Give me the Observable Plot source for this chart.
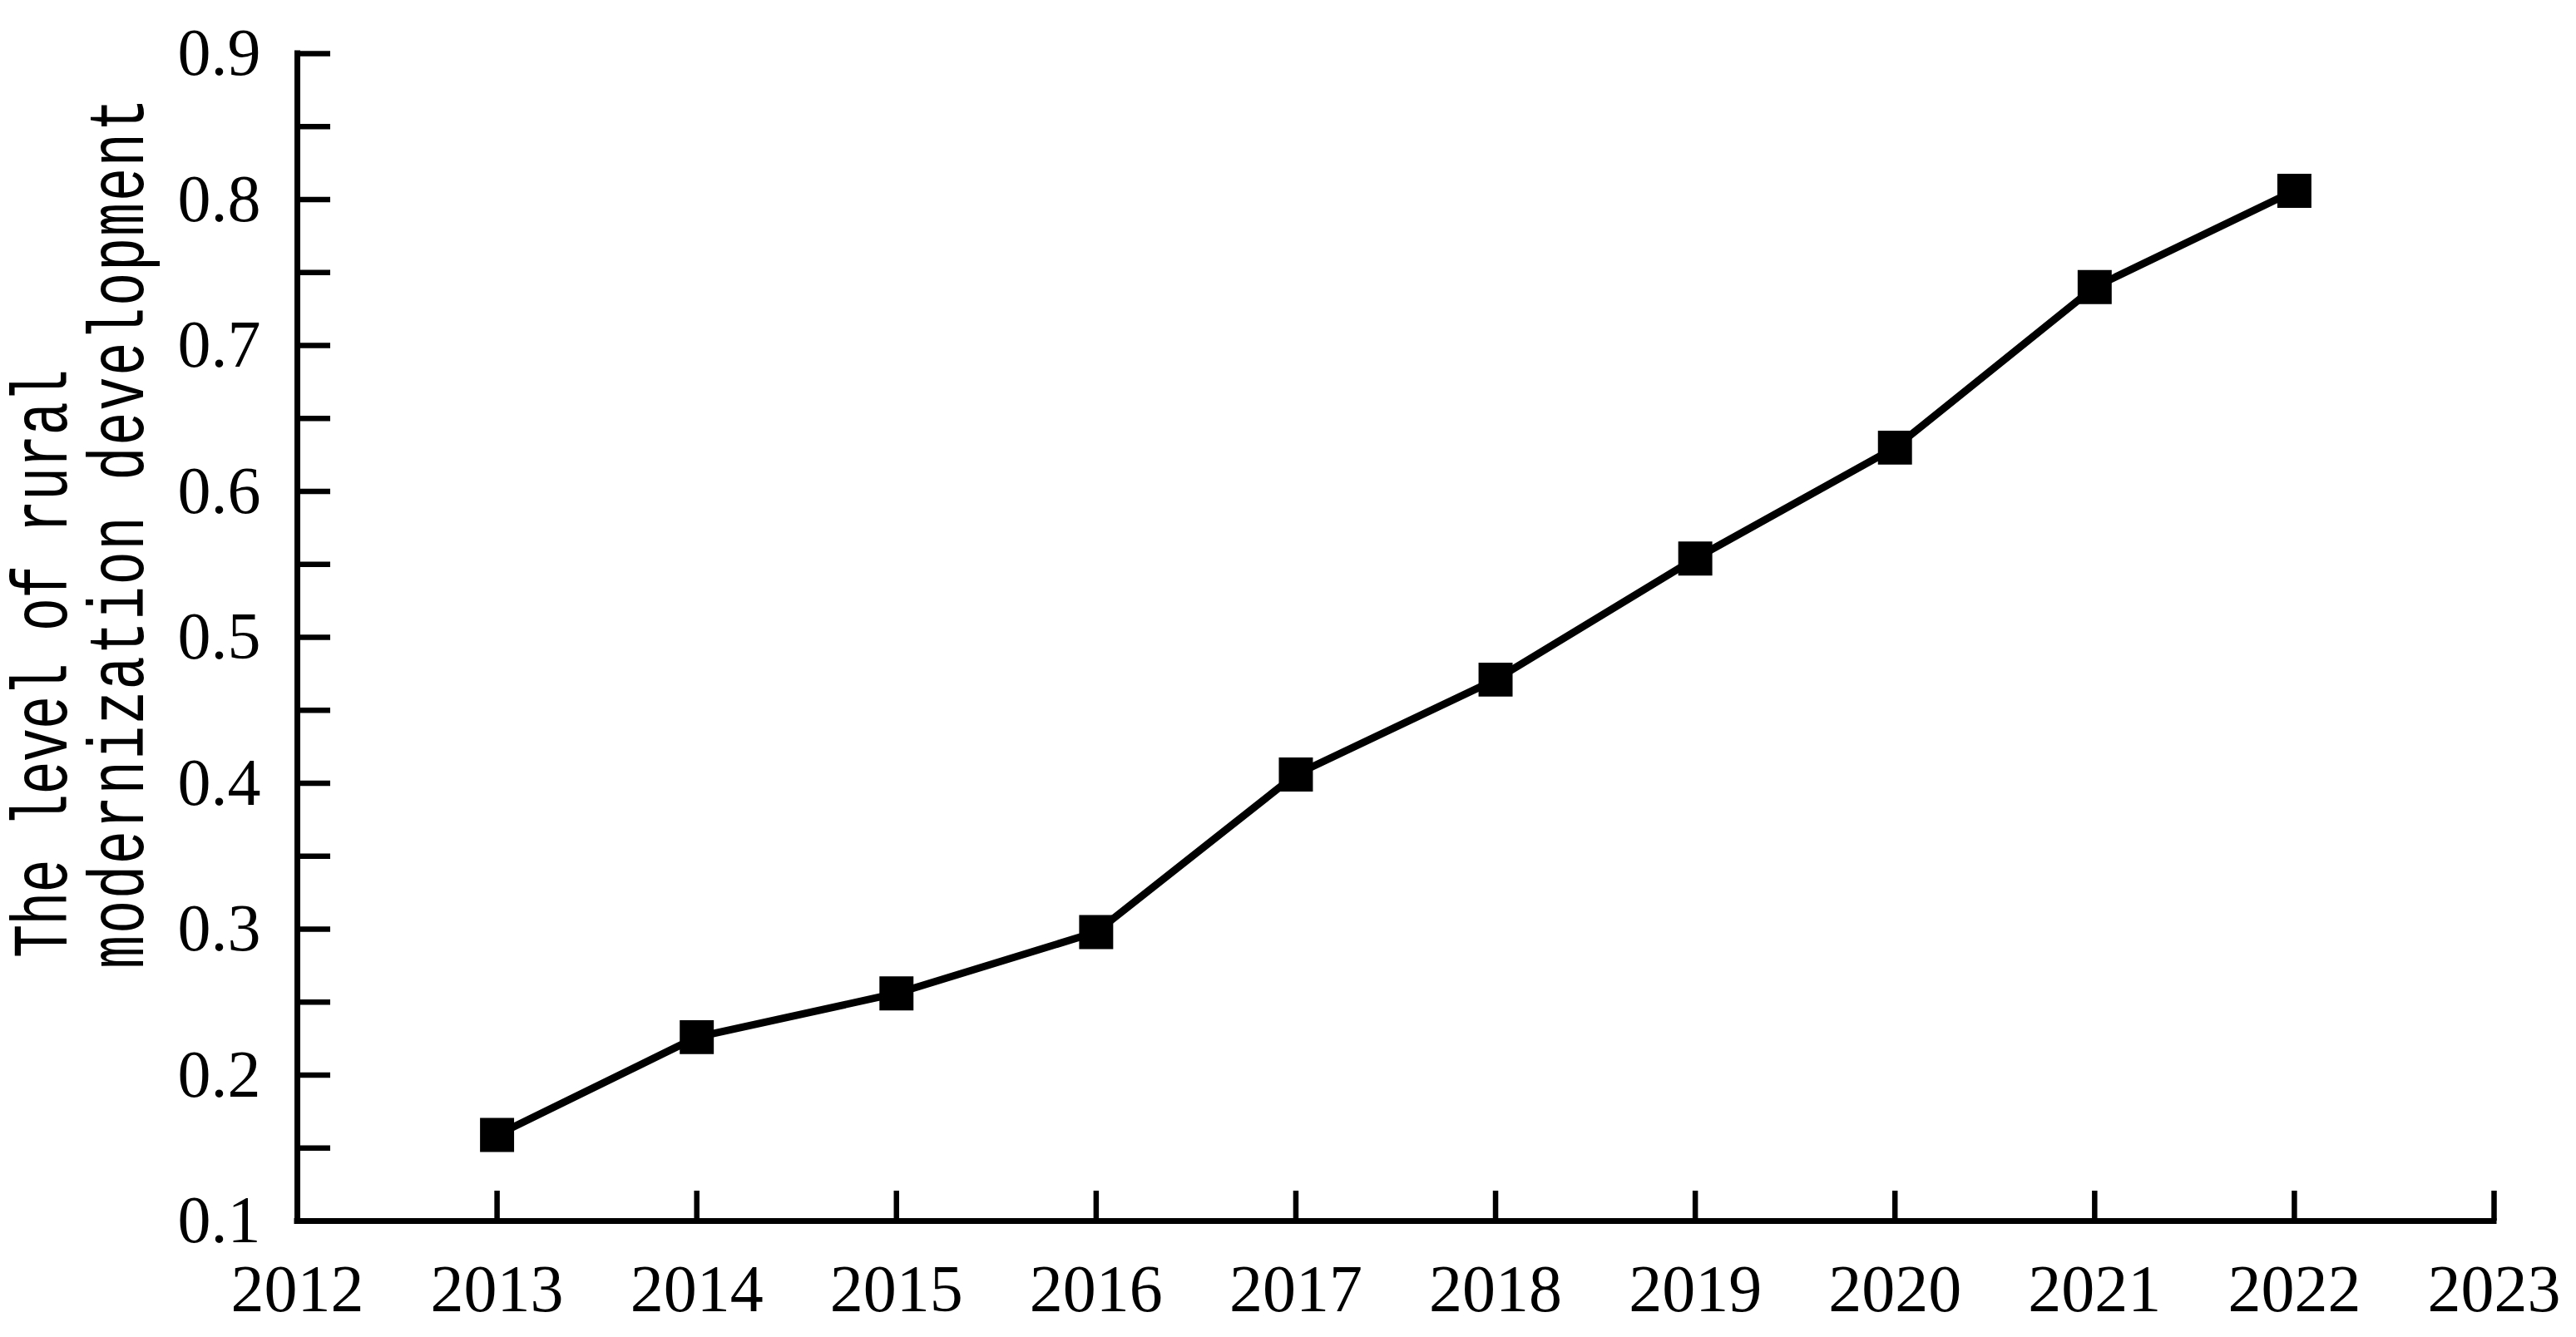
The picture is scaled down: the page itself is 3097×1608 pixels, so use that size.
<!DOCTYPE html>
<html>
<head>
<meta charset="utf-8">
<script src="https://cdn.jsdelivr.net/npm/d3@7"></script>
<script src="https://cdn.jsdelivr.net/npm/@observablehq/plot@0.6"></script>
<style>
html, body { margin: 0; padding: 0; background: #ffffff; }
#chart svg { display: block; }
</style>
</head>
<body>
<div id="chart"></div>
<script>
// ---- data ----
const years = [2013, 2014, 2015, 2016, 2017, 2018, 2019, 2020, 2021, 2022];
const levels = [0.159, 0.226, 0.256, 0.298, 0.406, 0.471, 0.554, 0.630, 0.740, 0.806];
const xTickYears = [2012, 2013, 2014, 2015, 2016, 2017, 2018, 2019, 2020, 2021, 2022, 2023];
const yLabelTicks = [0.1, 0.2, 0.3, 0.4, 0.5, 0.6, 0.7, 0.8, 0.9];
const yMinorTicks = [0.1, 0.15, 0.2, 0.25, 0.3, 0.35, 0.4, 0.45, 0.5, 0.55, 0.6, 0.65, 0.7, 0.75, 0.8, 0.85, 0.9];
const yTitleLines = ["The level of rural", "modernization development"];

const rows = years.map((year, i) => ({year, level: levels[i]}));

const serif = "'Liberation Serif', 'Times New Roman', serif";

const plot = Plot.plot({
  width: 3097,
  height: 1608,
  marginLeft: 357,
  marginRight: 99,
  marginTop: 64,
  marginBottom: 140,
  style: {background: "#ffffff", color: "#000000", fontFamily: serif, fontSize: "80px"},
  x: {domain: [2012, 2023]},
  y: {domain: [0.1, 0.9]},
  marks: [
    Plot.axisX(xTickYears, {tickSize: -36, tickPadding: 88, strokeWidth: 6.5, fontSize: 80, fontFamily: serif, tickFormat: d => String(d), label: null}),
    Plot.axisY(yMinorTicks, {tickSize: -40, tickPadding: 0, strokeWidth: 6.5, tickFormat: () => "", label: null}),
    Plot.axisY(yLabelTicks, {tickSize: 0, tickPadding: 44, fontSize: 80, fontFamily: serif, tickFormat: d => d.toFixed(1), label: null}),
    Plot.ruleX([2012], {strokeWidth: 7, strokeLinecap: "square"}),
    Plot.ruleY([0.1], {strokeWidth: 7, strokeLinecap: "square"}),
    Plot.line(rows, {x: "year", y: "level", stroke: "#000000", strokeWidth: 9}),
    Plot.dot(rows, {x: "year", y: "level", symbol: "square", r: 23.1, fill: "#000000", stroke: "none"})
  ]
});

// two-line rotated y-axis title
const svg = d3.select(plot);
const titleBaselines = [80, 172];
const titleStarts = [1152, 1165];
const titleLengths = [708, 1047];
yTitleLines.forEach((line, i) => {
  svg.append("text")
    .attr("transform", `translate(${titleBaselines[i]},${titleStarts[i]}) rotate(-90) scale(1,1.4)`)
    .attr("text-anchor", "start")
    .attr("font-family", "'Liberation Mono', 'DejaVu Sans Mono', monospace")
    .attr("font-size", 67)
    .attr("textLength", titleLengths[i])
    .attr("lengthAdjust", "spacing")
    .attr("fill", "#000000")
    .text(line);
});

document.getElementById("chart").appendChild(plot);
</script>
</body>
</html>
